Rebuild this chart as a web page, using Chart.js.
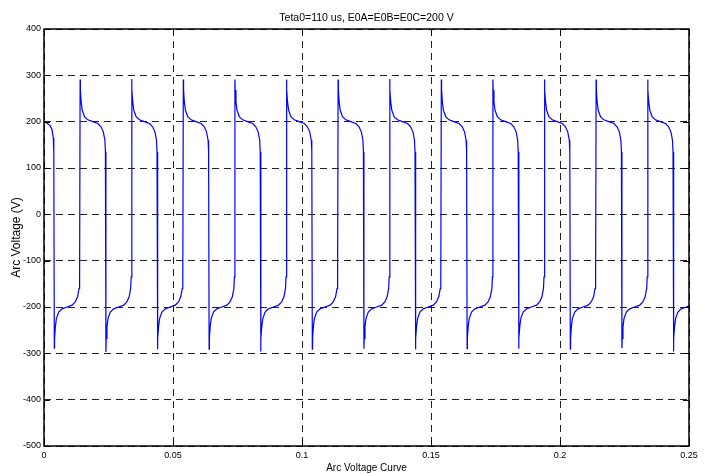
<!DOCTYPE html>
<html>
<head>
<meta charset="utf-8">
<script src="https://cdn.jsdelivr.net/npm/chart.js@4.4.1/dist/chart.umd.min.js"></script>
<style>
  html, body { margin: 0; padding: 0; background: #fff; }
  #arcChart { display: block; }
</style>
</head>
<body>
<canvas id="arcChart" width="709" height="474"></canvas>
<script>
// Switching instants (s) and the spike reached at each one (V)
const fallTimes = [0.004, 0.024, 0.044, 0.064, 0.084, 0.104, 0.124, 0.144, 0.164, 0.184, 0.204, 0.224, 0.244];
const fallPeaks = [-289, -297, -291, -291, -296, -291, -290, -291, -290, -290, -291, -289, -296];
const riseTimes = [0.014, 0.034, 0.054, 0.074, 0.094, 0.114, 0.134, 0.154, 0.174, 0.194, 0.214, 0.234];
const risePeaks = [291, 292, 291, 291, 291, 291, 292, 291, 291, 291, 291, 291];

// Shape of one half period after a switching instant (offset in s, value in V, positive half)
const shapeOffsets = [0.0001, 0.0004, 0.0008, 0.0017, 0.003, 0.0049, 0.0069, 0.0081, 0.009, 0.0096, 0.0098];
const shapeValues = [268, 243, 225, 211, 204, 200, 196, 189, 178, 160, 135];

// Start of the trace, before the first switching
const startTimes = [0, 0.001, 0.0023, 0.0031, 0.0036, 0.0038];
const startValues = [200, 197, 192, 183, 165, 135];

// Axes
const xTicks = [0, 0.05, 0.1, 0.15, 0.2, 0.25];
const xTickLabels = ['0', '0.05', '0.1', '0.15', '0.2', '0.25'];
const yTicks = [-500, -400, -300, -200, -100, 0, 100, 200, 300, 400];
const yTickLabels = ['-500', '-400', '-300', '-200', '-100', '0', '100', '200', '300', '400'];

const titleText = 'Teta0=110 us, E0A=E0B=E0C=200 V';
const FONT = '"Liberation Sans", Arial, Helvetica, sans-serif';

// Monta os pontos da curva
const points = startTimes.map((t, i) => ({ x: t, y: startValues[i] }));
const edges = fallTimes.map((t, i) => ({ t: t, peak: fallPeaks[i], sign: -1 }))
    .concat(riseTimes.map((t, i) => ({ t: t, peak: risePeaks[i], sign: 1 })))
    .sort((a, b) => a.t - b.t);
edges.forEach(e => {
    points.push({ x: e.t, y: e.peak });
    shapeOffsets.forEach((off, i) => {
        points.push({ x: e.t + off, y: e.sign * shapeValues[i] });
    });
});

// Frame, inward ticks and title
const framePlugin = {
    id: 'frame',
    afterDraw(chart) {
        const { ctx, chartArea: a, scales } = chart;
        ctx.save();
        ctx.strokeStyle = '#000';
        ctx.lineWidth = 1;
        ctx.beginPath();
        yTicks.forEach(v => {
            const y = Math.round(scales.y.getPixelForValue(v)) + 0.5;
            ctx.moveTo(a.left, y); ctx.lineTo(a.left + 6, y);
            ctx.moveTo(a.right, y); ctx.lineTo(a.right - 6, y);
        });
        xTicks.forEach(v => {
            const x = Math.round(scales.x.getPixelForValue(v)) + 0.5;
            ctx.moveTo(x, a.bottom); ctx.lineTo(x, a.bottom - 6);
            ctx.moveTo(x, a.top); ctx.lineTo(x, a.top + 6);
        });
        ctx.stroke();
        ctx.lineWidth = 1.5;
        ctx.strokeRect(a.left, a.top, a.right - a.left, a.bottom - a.top);

        ctx.fillStyle = '#000';
        ctx.font = '10.5px ' + FONT;
        ctx.textAlign = 'center';
        ctx.textBaseline = 'alphabetic';
        ctx.fillText(titleText, (a.left + a.right) / 2, 20.5);
        ctx.restore();
    }
};

const ctx = document.getElementById('arcChart').getContext('2d');
const myChart = new Chart(ctx, {
    type: 'line',
    data: {
        datasets: [{
            label: 'Arc Voltage',
            data: points,
            borderColor: '#0000ff',
            borderWidth: 1.2,
            pointRadius: 0,
            tension: 0,
            fill: false
        }]
    },
    options: {
        responsive: false,
        animation: false,
        layout: { padding: { top: 29, right: 20, left: 0, bottom: 0 } },
        plugins: {
            legend: { display: false },
            tooltip: { enabled: false },
            title: { display: false }
        },
        scales: {
            x: {
                type: 'linear',
                min: 0,
                max: 0.25,
                afterFit: s => { s.height = 28; },
                afterBuildTicks: s => { s.ticks = xTicks.map(v => ({ value: v })); },
                ticks: {
                    autoSkip: false,
                    maxRotation: 0,
                    padding: 4,
                    color: '#000',
                    font: { family: FONT, size: 9 },
                    callback: (v, i) => xTickLabels[i]
                },
                grid: { color: '#222', lineWidth: 1, drawTicks: false },
                border: { display: false, dash: [7, 5] },
                title: {
                    display: true,
                    text: 'Arc Voltage Curve',
                    color: '#000',
                    font: { family: FONT, size: 10 },
                    padding: { top: 0, bottom: 0 }
                }
            },
            y: {
                min: -500,
                max: 400,
                afterFit: s => { s.width = 44; },
                afterBuildTicks: s => { s.ticks = yTicks.map(v => ({ value: v })); },
                ticks: {
                    autoSkip: false,
                    padding: 3,
                    color: '#000',
                    font: { family: FONT, size: 9 },
                    callback: (v, i) => yTickLabels[i]
                },
                grid: { color: '#222', lineWidth: 1, drawTicks: false },
                border: { display: false, dash: [7, 5] },
                title: {
                    display: true,
                    text: 'Arc Voltage (V)',
                    color: '#000',
                    font: { family: FONT, size: 12 },
                    padding: { top: 9, bottom: 0 }
                }
            }
        }
    },
    plugins: [framePlugin]
});
</script>
</body>
</html>
